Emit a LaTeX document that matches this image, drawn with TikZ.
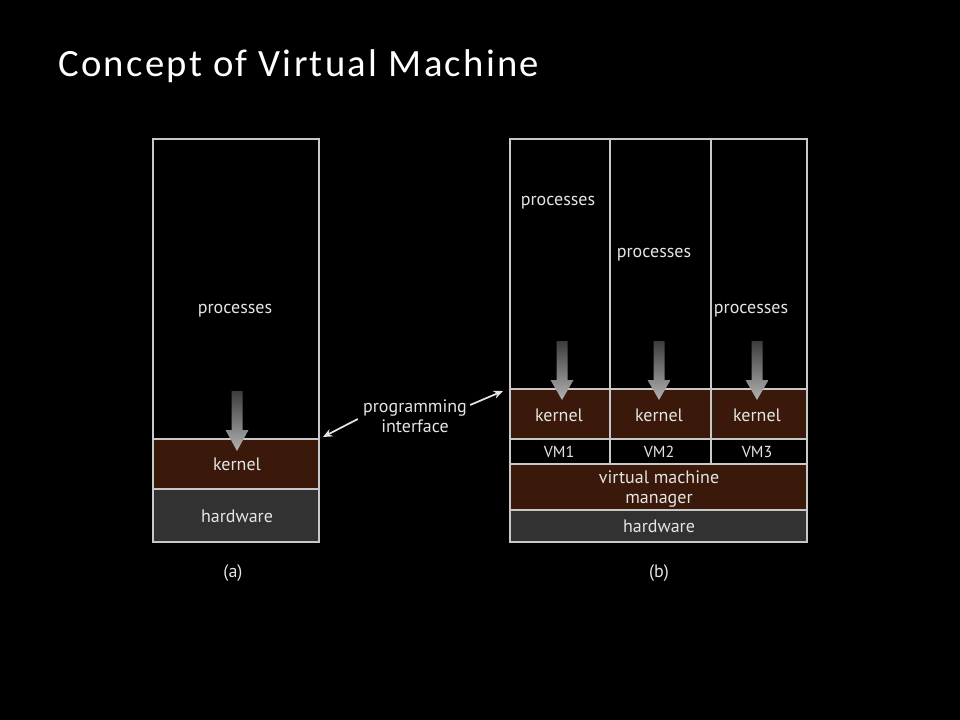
\documentclass[tikz,border=0pt]{standalone}
\usepackage{fontspec}
\setmainfont{PT Sans}
\newfontfamily\titlefont[LetterSpace=6]{Carlito}
\usepackage{xcolor}
\definecolor{kernelbrown}{RGB}{58,25,10}
\definecolor{hwgray}{RGB}{50,50,50}
\definecolor{linegray}{RGB}{200,200,200}
\definecolor{labelgray}{RGB}{228,228,228}
\definecolor{arrowdark}{RGB}{60,60,60}
\definecolor{arrowlight}{RGB}{178,178,178}
\usetikzlibrary{positioning,calc,arrows.meta}

\begin{document}
\begin{tikzpicture}[
    x=0.75pt, y=-0.75pt,
    box/.style={draw=linegray, line width=1pt},
    txt/.style={text=labelgray, inner sep=0pt, font=\fontsize{13.5}{15}\selectfont},
    vmtxt/.style={txt, font=\fontsize{12}{14}\selectfont},
    pointer/.style={-{Stealth[length=7pt, width=6pt]}, draw=labelgray, line width=1.3pt},
    flow/.style={top color=arrowdark, bottom color=arrowlight, draw=none}
]
    % Background
    \fill[black] (0,0) rectangle (960,720);

    % Title
    \node[anchor=base west, inner sep=0pt, text=white, font=\titlefont\fontsize{29}{34}\selectfont] (title) at (58,77) {Concept of Virtual Machine};

    % (a) plain machine
    \draw[box] (153,139) rectangle (319,439);
    \draw[box, fill=kernelbrown] (153,439) rectangle (319,489);
    \draw[box, fill=hwgray] (153,489) rectangle (319,542);
    \draw[linegray, line width=1.6pt] (153,439) -- (319,439);

    % (b) virtual machines
    \draw[box] (510,139) rectangle (807,389);
    \draw[box, fill=kernelbrown] (510,389) rectangle (807,439);
    \draw[box] (510,439) rectangle (807,464);
    \draw[box, fill=kernelbrown] (510,464) rectangle (807,510);
    \draw[box, fill=hwgray] (510,510) rectangle (807,542);
    \foreach \x in {610,711}
        \draw[box] (\x,139) -- (\x,464);
    \draw[linegray, line width=2.2pt] (510,389) -- (807,389);

    % Calls into the kernel
    \foreach \x/\t/\h/\b in {237/391/430/451, 562/341/380/400, 659/341/380/400, 757/341/380/400}
        \shade[flow] (\x-5.5,\t) -- (\x+5.5,\t) -- (\x+5.5,\h) -- (\x+11.5,\h)
            -- (\x,\b) -- (\x-11.5,\h) -- (\x-5.5,\h) -- cycle;

    % Labels (a)
    \node[txt] (procA) at (235,311) {processes};
    \node[txt] (kernA) at (237,464) {kernel};
    \node[txt] (hwA) at (237,516) {hardware};
    \node[txt] (capA) at (233,573) {(a)};

    % Labels (b)
    \node[txt] (proc1) at (558,203) {processes};
    \node[txt] (proc2) at (654,255) {processes};
    \node[txt] (proc3) at (751,311) {processes};
    \node[txt] (kern1) at (559,415) {kernel};
    \node[txt] (kern2) at (659,415) {kernel};
    \node[txt] (kern3) at (757,415) {kernel};
    \node[vmtxt] (vm1) at (559,452) {VM1};
    \node[vmtxt] (vm2) at (659,452) {VM2};
    \node[vmtxt] (vm3) at (757,452) {VM3};
    \node[txt, align=center, font=\fontsize{13.5}{14.5}\selectfont] (vmm) at (659,489) {virtual machine\\manager};
    \node[txt] (hwB) at (659,526) {hardware};
    \node[txt] (capB) at (659,573) {(b)};

    % Programming interface
    \node[txt, align=center, font=\fontsize{13.5}{15}\selectfont] (iface) at (415,416) {programming\\interface};
    \coordinate (ifaceA) at (323,437);
    \coordinate (ifaceB) at (503,391);
    \draw[pointer] ([shift={(-5,3)}]iface.west) -- (ifaceA);
    \draw[pointer] ([shift={(3,-11)}]iface.east) -- (ifaceB);
\end{tikzpicture}
\end{document}
